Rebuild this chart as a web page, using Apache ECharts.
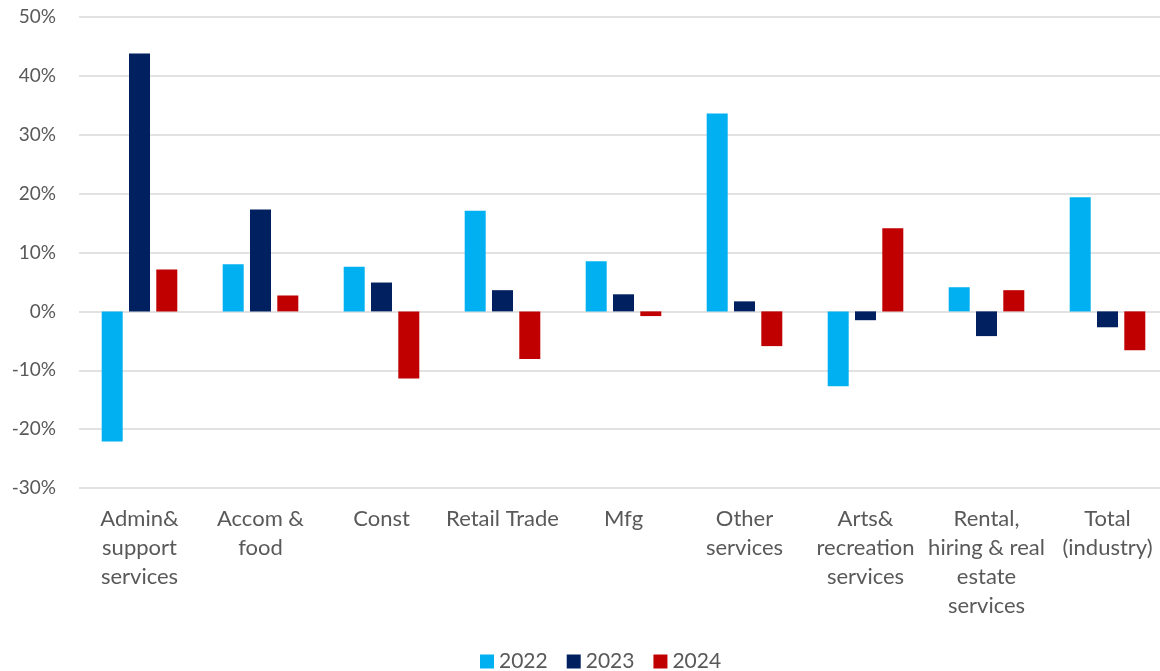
<!DOCTYPE html>
<html>
<head>
<meta charset="utf-8">
<script src="https://cdn.jsdelivr.net/npm/echarts@6/dist/echarts.min.js"></script>
<style>
html, body { margin: 0; padding: 0; background: #fff; }
#chart { width: 1160px; height: 671px; }
</style>
</head>
<body>
<div id="chart"></div>
<script>
var categories = ['Admin&\nsupport\nservices', 'Accom &\nfood', 'Const', 'Retail Trade', 'Mfg',
	'Other\nservices', 'Arts&\nrecreation\nservices', 'Rental,\nhiring & real\nestate\nservices', 'Total\n(industry)'];
var yearNames = ['2022', '2023', '2024'];
var values2022 = [-22.1, 8.0, 7.6, 17.1, 8.5, 33.6, -12.7, 4.1, 19.4];
var values2023 = [43.8, 17.3, 4.9, 3.6, 2.9, 1.7, -1.5, -4.2, -2.7];
var values2024 = [7.1, 2.7, -11.4, -8.1, -0.8, -5.9, 14.1, 3.6, -6.6];
var colors = ['#00B0F0', '#002060', '#C00000'];

var font = 'Lato, "Open Sans", sans-serif';
var textColor = '#595959';

function makeSeries(name, data, color) {
	return {
		name: name,
		type: 'bar',
		data: data,
		barWidth: 21,
		barGap: '30%',
		itemStyle: { color: color }
	};
}

var myChart = echarts.init(document.getElementById('chart'));
myChart.setOption({
	animation: false,
	color: colors,
	grid: { left: 79, right: -8, top: 17, bottom: 183, containLabel: false, outerBoundsMode: 'none' },
	legend: {
		top: 646,
		left: 475,
		itemWidth: 14,
		itemHeight: 14,
		itemGap: 19,
		icon: 'rect',
		textStyle: { color: textColor, fontSize: 21, fontFamily: font },
		data: yearNames
	},
	xAxis: {
		type: 'category',
		data: categories,
		axisLine: { show: false, onZero: false },
		axisTick: { show: false },
		axisLabel: {
			interval: 0,
			color: textColor,
			fontSize: 22,
			fontFamily: font,
			lineHeight: 29,
			margin: 16,
			verticalAlign: 'top'
		}
	},
	yAxis: {
		type: 'value',
		min: -30,
		max: 50,
		interval: 10,
		axisLine: { show: false },
		axisTick: { show: false },
		splitLine: { lineStyle: { color: '#D9D9D9', width: 1.5 } },
		axisLabel: {
			color: textColor,
			fontSize: 19,
			fontFamily: font,
			margin: 23,
			formatter: '{value}%'
		}
	},
	series: [
		makeSeries(yearNames[0], values2022, colors[0]),
		makeSeries(yearNames[1], values2023, colors[1]),
		makeSeries(yearNames[2], values2024, colors[2])
	]
});
</script>
</body>
</html>
